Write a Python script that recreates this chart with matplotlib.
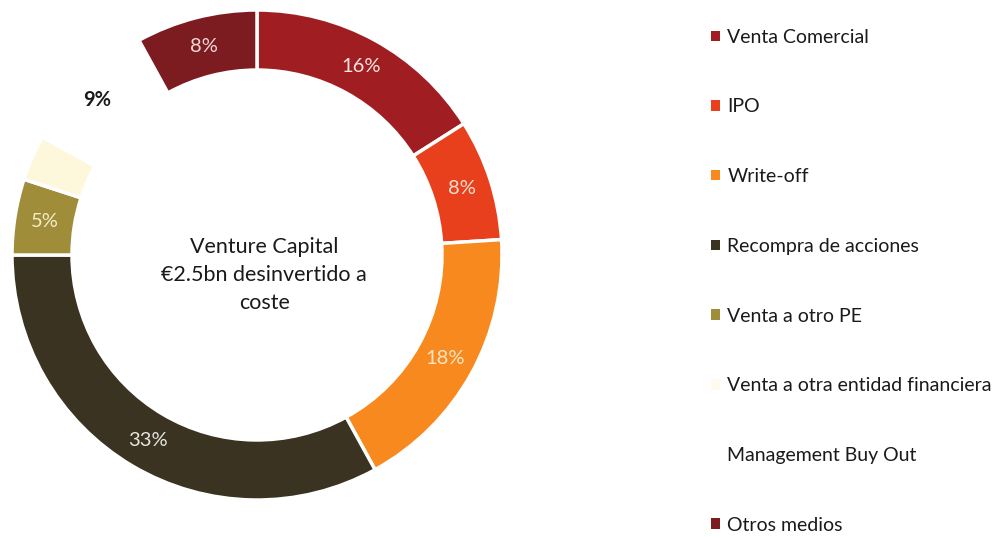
import matplotlib
matplotlib.use("Agg")
import matplotlib.pyplot as plt
from matplotlib.patches import Patch

plt.rcParams['font.family'] = ['Lato', 'DejaVu Sans']

categories = ["Venta Comercial", "IPO", "Write-off", "Recompra de acciones",
              "Venta a otro PE", "Venta a otra entidad financiera",
              "Management Buy Out", "Otros medios"]
values = [16, 8, 18, 33, 5, 3, 9, 8]
colors = ["#A01E22", "#E8401C", "#F7891E", "#3A3321",
          "#A08D3A", "#FDF7DC", "#FFFFFF", "#7C1C20"]
label_colors = ["#F8E6E0", "#F8E0D0", "#FBE6C8", "#E8E6E0",
                "#F6EBC8", "#FDF7DC", "#1A1A1A", "#F2D8D8"]
legend_colors = ["#A01E22", "#E8401C", "#F7891E", "#3A3321",
                 "#A08D3A", "#FEFBEE", "#FFFFFF", "#7C1C20"]
center_text = "Venture Capital\n€2.5bn desinvertido a\ncoste"

fig = plt.figure(figsize=(10.02, 5.37), dpi=100)
ax = fig.add_axes([12/1002, 37/537, 490/1002, 490/537])
ax.set_aspect('equal')

wedges, texts, autotexts = ax.pie(
    values, colors=colors, startangle=90, counterclock=False, radius=1.0,
    autopct=lambda p: f"{round(p)}%", pctdistance=0.878,
    wedgeprops=dict(width=0.245, edgecolor='white', linewidth=2.5))
for t, c in zip(autotexts, label_colors):
    t.set_color(c)
    t.set_fontsize(14.5)
autotexts[6].set_fontweight('bold')
autotexts[6].set_position((autotexts[6].get_position()[0] - 0.03,
                           autotexts[6].get_position()[1] + 0.01))
ax.set_xlim(-1, 1)
ax.set_ylim(-1, 1)

ax.text(0.03, -0.083, center_text, ha='center', va='center', fontsize=15.5,
        color='#1A1A1A', linespacing=1.5)

handles = [Patch(facecolor=c, edgecolor='none') for c in legend_colors]
leg = fig.legend(handles, categories, loc='upper left',
                 bbox_to_anchor=(703/1002, 1 - 21/537), frameon=False,
                 fontsize=14, handlelength=0.45, handleheight=0.45,
                 handletextpad=0.4, labelspacing=2.71, borderaxespad=0)
for t in leg.get_texts():
    t.set_color('#1A1A1A')

fig.savefig("out.png", dpi=100, facecolor='white')
